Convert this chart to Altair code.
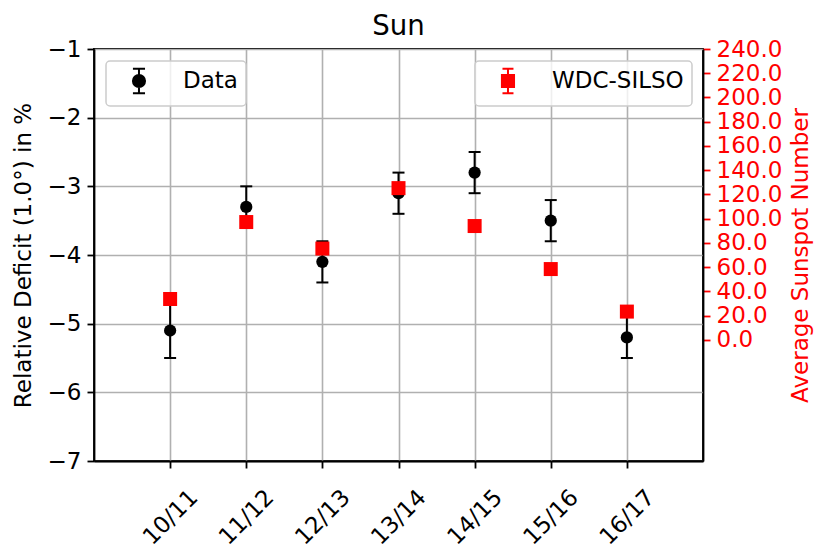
import altair as alt
import pandas as pd

seasons = ["10/11", "11/12", "12/13", "13/14", "14/15", "15/16", "16/17"]
deficit = [-5.1, -3.3, -4.1, -3.1, -2.8, -3.5, -5.2]
deficit_err = [0.4, 0.3, 0.3, 0.3, 0.3, 0.3, 0.3]
sunspots = [33.7, 97.2, 75.3, 125.2, 93.9, 58.4, 23.3]
left_ticks = [-7, -6, -5, -4, -3, -2, -1]
right_ticks = [0, 20, 40, 60, 80, 100, 120, 140, 160, 180, 200, 220, 240]

df = pd.DataFrame({
    "season": seasons,
    "deficit": deficit,
    "lo": [d - e for d, e in zip(deficit, deficit_err)],
    "hi": [d + e for d, e in zip(deficit, deficit_err)],
    "sunspot": sunspots,
    "s1": ["Data"] * len(seasons),
    "s2": ["WDC-SILSO"] * len(seasons),
})

FONT = "DejaVu Sans"
FS = 23

# legend glyphs: marker with error bar (unit = symbol radius = 11px)
CIRCLE_EB = ("M0.63,0 A0.55,0.55 0 1,0 1.73,0 A0.55,0.55 0 1,0 0.63,0 Z "
             "M1.18,-1.12 L1.18,1.12 M0.63,-1.12 L1.73,-1.12 M0.63,1.12 L1.73,1.12")
SQUARE_EB = ("M0.63,-0.55 L1.73,-0.55 L1.73,0.55 L0.63,0.55 Z "
             "M1.18,-1.12 L1.18,1.12 M0.68,-1.12 L1.68,-1.12 M0.68,1.12 L1.68,1.12")

x_enc = alt.X(
    "season:O", sort=seasons, title=None,
    scale=alt.Scale(type="point", padding=1),
    axis=alt.Axis(labelAngle=315, labelAlign="center", labelBaseline="middle",
                  labelPadding=49, grid=True),
)

y_left = alt.Y(
    "deficit:Q", title="Relative Deficit (1.0°) in %",
    scale=alt.Scale(domain=[-7, -1], nice=False, zero=False),
    axis=alt.Axis(values=left_ticks, format="d", grid=True, titlePadding=12,
                  labelPadding=6),
)

base = alt.Chart(df)

bars = base.mark_rule(color="black", strokeWidth=2).encode(
    x=x_enc, y=alt.Y("lo:Q"), y2="hi:Q")
cap_lo = base.mark_point(shape="M-1,0L1,0", size=144, color="black",
                         strokeWidth=2, filled=False, opacity=1).encode(
    x=x_enc, y="lo:Q")
cap_hi = base.mark_point(shape="M-1,0L1,0", size=144, color="black",
                         strokeWidth=2, filled=False, opacity=1).encode(
    x=x_enc, y="hi:Q")
dots = base.mark_circle(size=150, opacity=1).encode(
    x=x_enc, y=y_left,
    color=alt.Color("s1:N", scale=alt.Scale(domain=["Data"], range=["black"]),
                    legend=alt.Legend(orient="top-left", offset=12, title=None,
                                      symbolType=CIRCLE_EB, symbolSize=484,
                                      symbolStrokeColor="black",
                                      symbolFillColor="black",
                                      symbolStrokeWidth=2, labelOffset=45)),
)

left = alt.layer(bars, cap_lo, cap_hi, dots)

squares = base.mark_square(size=196, opacity=1).encode(
    x=x_enc,
    y=alt.Y("sunspot:Q", title="Average Sunspot Number",
            scale=alt.Scale(domain=[-100, 240], nice=False, zero=False),
            axis=alt.Axis(orient="right", values=right_ticks, format=".1f",
                          grid=False, labelColor="red", tickColor="red",
                          titleColor="red", titleAngle=270, titleBaseline="top",
                          titlePadding=8, labelPadding=6)),
    color=alt.Color("s2:N", scale=alt.Scale(domain=["WDC-SILSO"], range=["red"]),
                    legend=alt.Legend(orient="top-right", offset=11.5, title=None,
                                      symbolType=SQUARE_EB, symbolSize=484,
                                      symbolStrokeColor="red",
                                      symbolFillColor="red",
                                      symbolStrokeWidth=2, labelOffset=45)),
)

chart = alt.layer(left, squares).resolve_scale(
    y="independent", color="independent"
).properties(
    width=609, height=412,
    title=alt.TitleParams("Sun", fontSize=27.6, font=FONT, fontWeight="normal",
                          color="black", offset=-3),
    padding={"left": 4, "top": 5, "right": 4, "bottom": 4},
).configure_view(
    stroke="black", strokeWidth=1.8
).configure_axis(
    labelFont=FONT, labelFontSize=FS, labelColor="black",
    titleFont=FONT, titleFontSize=FS, titleFontWeight="normal", titleColor="black",
    domainColor="black", domainWidth=1.8, tickColor="black", tickWidth=1.8,
    tickSize=7, gridColor="#b0b0b0", gridWidth=1.6, gridOpacity=1,
).configure_legend(
    labelFont=FONT, labelFontSize=FS, labelColor="black",
    padding=8, strokeColor="#cccccc", strokeWidth=1.5, cornerRadius=4,
    fillColor="rgba(255,255,255,0.8)",
)

chart.save("out.html", embed_options={"renderer": "svg", "actions": False})
